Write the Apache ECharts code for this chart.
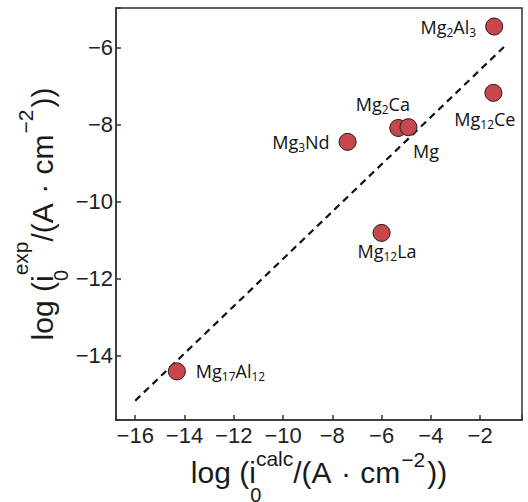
<!DOCTYPE html>
<html>
<head>
<meta charset="utf-8">
<script src="https://cdn.jsdelivr.net/npm/echarts@6/dist/echarts.min.js"></script>
<style>
html, body { margin: 0; padding: 0; background: #fff; }
#chart { width: 528px; height: 502px; }
</style>
</head>
<body>
<div id="chart"></div>
<script>
// compounds, calculated vs experimental log exchange current density
let names = ['Mg2Al3', 'Mg12Ce', 'Mg2Ca', 'Mg', 'Mg3Nd', 'Mg12La', 'Mg17Al12'];
let calcData = [-1.43, -1.46, -5.32, -4.91, -7.38, -6.0, -14.31];
let expData = [-5.46, -7.18, -8.09, -8.07, -8.45, -10.81, -14.40];
// dashed guide line end points
let fitX = [-16, -1];
let fitY = [-15.16, -5.97];
let xTicks = [-16, -14, -12, -10, -8, -6, -4, -2];
let yTicks = [-14, -12, -10, -8, -6];

let axisColor = '#333';
let tickFont = 'Liberation Sans, Arial, sans-serif';
let labelFont = 'Open Sans, Noto Sans, sans-serif';
let symSize = 17;

// where each point label sits (offset of label centre from point centre)
let labelPlace = {
    Mg2Al3: {position: 'left', distance: 9},
    Mg12Ce: {shift: [-8, 27]},
    Mg2Ca: {shift: [-15, -23]},
    Mg: {shift: [18, 24]},
    Mg3Nd: {position: 'left', distance: 9},
    Mg12La: {shift: [6, 19]},
    Mg17Al12: {position: 'right', distance: 10}
};

function chem(name) {
    return name.replace(/([A-Za-z]+)|(\d+)/g, function(m, a, d) {
        return a ? '{n|' + a + '}' : '{s|' + d + '}';
    });
}

function tickFmt(list) {
    return function(v) {
        for (let i = 0; i < list.length; i++) {
            if (Math.abs(list[i] - v) < 1e-6) {
                return (v < 0 ? '\u2212' : '') + Math.abs(v);
            }
        }
        return '';
    };
}

let scatterData = names.map(function(n, i) {
    let p = labelPlace[n];
    let label = {show: true, verticalAlign: 'middle', formatter: chem(n)};
    if (p.shift) {
        label.position = [symSize / 2 + p.shift[0], symSize / 2 + p.shift[1]];
        label.align = 'center';
    } else {
        label.position = p.position;
        label.distance = p.distance;
        label.align = p.position === 'left' ? 'right' : 'left';
    }
    return {name: n, value: [calcData[i], expData[i]], label: label};
});

let lineData = fitX.map(function(x, i) { return [x, fitY[i]]; });

function titleRich(subPad, supPad, powPad) {
    let base = {fontFamily: tickFont, color: '#1a1a1a', verticalAlign: 'middle'};
    return {
        m: Object.assign({fontSize: 30}, base),
        d: Object.assign({fontSize: 30, padding: [0, 1, 0, 1]}, base),
        b: Object.assign({fontSize: 20, padding: [subPad, 0, 0, 0], width: 0}, base),
        p: Object.assign({fontSize: 21, padding: [0, 0, supPad, 0]}, base),
        q: Object.assign({fontSize: 21, padding: [0, 2, powPad, 1]}, base)
    };
}

let chart = echarts.init(document.getElementById('chart'), null, {renderer: 'svg'});

let option = {
    backgroundColor: '#fff',
    animation: false,
    grid: {
        left: 116,
        right: 6,
        top: 8,
        bottom: 82,
        show: true,
        borderColor: axisColor,
        borderWidth: 1.5,
        containLabel: false,
        outerBoundsMode: 'none'
    },
    xAxis: {
        type: 'value',
        min: -16.78,
        max: -0.3,
        minInterval: 2,
        maxInterval: 2,
        splitLine: {show: false},
        axisLine: {show: true, onZero: false, lineStyle: {color: axisColor, width: 1.5}},
        axisTick: {show: true, inside: true, length: 5, lineStyle: {color: axisColor, width: 1.5}},
        axisLabel: {
            color: '#222',
            fontFamily: tickFont,
            fontSize: 22,
            margin: 4,
            formatter: tickFmt(xTicks)
        },
        name: '{m|log (i}{b|0}{p|calc}{m|/(A}{d| \u00b7 }{m|cm}{q|\u22122}{m|))}',
        nameLocation: 'middle',
        nameGap: 20,
        nameMoveOverlap: false,
        nameTextStyle: {
            color: '#1a1a1a',
            fontFamily: tickFont,
            rich: titleRich(45, 29, 27)
        }
    },
    yAxis: {
        type: 'value',
        min: -15.66,
        max: -4.98,
        minInterval: 2,
        maxInterval: 2,
        splitLine: {show: false},
        axisLine: {show: true, onZero: false, lineStyle: {color: axisColor, width: 1.5}},
        axisTick: {show: true, inside: true, length: 5, lineStyle: {color: axisColor, width: 1.5}},
        axisLabel: {
            color: '#222',
            fontFamily: tickFont,
            fontSize: 22,
            margin: 3,
            formatter: tickFmt(yTicks)
        },
        name: '{m|log (i}{b|0}{p|exp}{m|/(A}{d| \u00b7 }{m|cm}{q|\u22122}{m|))}',
        nameLocation: 'middle',
        nameRotate: 90,
        nameGap: 42,
        nameMoveOverlap: false,
        nameTextStyle: {
            color: '#1a1a1a',
            fontFamily: tickFont,
            rich: titleRich(37, 43, 33)
        }
    },
    series: [
        {
            type: 'line',
            data: lineData,
            symbol: 'none',
            silent: true,
            z: 1,
            lineStyle: {color: '#111', width: 2.2, type: [7, 5]}
        },
        {
            type: 'scatter',
            data: scatterData,
            symbol: 'circle',
            symbolSize: symSize,
            z: 3,
            itemStyle: {color: '#c8464c', borderColor: '#1a1a1a', borderWidth: 1, opacity: 1},
            label: {
                color: '#111',
                fontFamily: labelFont,
                rich: {
                    n: {fontSize: 18, fontFamily: labelFont, color: '#111', verticalAlign: 'middle'},
                    s: {fontSize: 12, fontFamily: labelFont, color: '#111', verticalAlign: 'middle', padding: [11, 0, 0, 0]}
                }
            },
            labelLayout: {hideOverlap: false}
        }
    ]
};

chart.setOption(option);
</script>
</body>
</html>
